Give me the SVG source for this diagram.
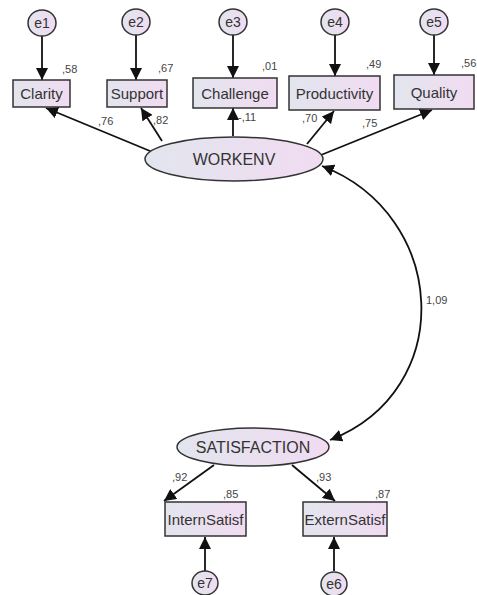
<svg xmlns="http://www.w3.org/2000/svg" width="477" height="595" viewBox="0 0 477 595">
<defs>
<linearGradient id="g" x1="0" y1="0" x2="1" y2="0">
<stop offset="0" stop-color="#e2e5ee"/>
<stop offset="1" stop-color="#f1dbf1"/>
</linearGradient>
<marker id="ahb" viewBox="0 0 10 10" refX="10" refY="5" markerWidth="12" markerHeight="12" markerUnits="userSpaceOnUse" orient="auto-start-reverse">
<path d="M0,0 L10,5 L0,10 z" fill="#111"/>
</marker>
</defs>
<style>
.box{fill:url(#g);stroke:#333;stroke-width:1.5}
.lat{fill:url(#g);stroke:#333;stroke-width:1.5}
.err{fill:url(#g);stroke:#333;stroke-width:1.5}
.t{font-family:"Liberation Sans",Arial,sans-serif;font-size:15px;fill:#333;text-anchor:middle;dominant-baseline:central}
.lt{font-family:"Liberation Sans",Arial,sans-serif;font-size:16px;fill:#333;text-anchor:middle;dominant-baseline:central}
.et{font-family:"Liberation Sans",Arial,sans-serif;font-size:14px;fill:#333;text-anchor:middle;dominant-baseline:central}
.n{font-family:"Liberation Sans",Arial,sans-serif;font-size:11px;fill:#444}
.c{stroke:#111;stroke-width:1.8;fill:none}
</style>
<rect width="477" height="595" fill="#fff"/>
<g id="connectors">
<line class="c" x1="42" y1="36" x2="42" y2="80" marker-end="url(#ahb)"/>
<line class="c" x1="136" y1="35" x2="136" y2="80" marker-end="url(#ahb)"/>
<line class="c" x1="233" y1="35" x2="233" y2="78" marker-end="url(#ahb)"/>
<line class="c" x1="335" y1="35" x2="335" y2="76" marker-end="url(#ahb)"/>
<line class="c" x1="434" y1="35" x2="434" y2="75" marker-end="url(#ahb)"/>
<line class="c" x1="150" y1="151" x2="46" y2="108" marker-end="url(#ahb)"/>
<line class="c" x1="162" y1="141" x2="141" y2="108" marker-end="url(#ahb)"/>
<line class="c" x1="233" y1="136" x2="233" y2="108" marker-end="url(#ahb)"/>
<line class="c" x1="307" y1="144" x2="334" y2="111" marker-end="url(#ahb)"/>
<line class="c" x1="321" y1="155" x2="432" y2="110" marker-end="url(#ahb)"/>
<path class="c" d="M322,166 C448,215 458,390 330,440" marker-start="url(#ahb)" marker-end="url(#ahb)"/>
<line class="c" x1="214" y1="465" x2="164" y2="501" marker-end="url(#ahb)"/>
<line class="c" x1="292" y1="465" x2="335" y2="501" marker-end="url(#ahb)"/>
<line class="c" x1="205" y1="571" x2="205" y2="537" marker-end="url(#ahb)"/>
<line class="c" x1="334" y1="571" x2="334" y2="537" marker-end="url(#ahb)"/>
</g>
<g id="e1"><ellipse class="err" cx="42" cy="23" rx="14" ry="13"/><text class="et" x="42" y="23">e1</text></g>
<g id="e2"><ellipse class="err" cx="136" cy="22" rx="14" ry="13"/><text class="et" x="136" y="22">e2</text></g>
<g id="e3"><ellipse class="err" cx="233" cy="22" rx="14" ry="13"/><text class="et" x="233" y="22">e3</text></g>
<g id="e4"><ellipse class="err" cx="335" cy="22" rx="14" ry="13"/><text class="et" x="335" y="22">e4</text></g>
<g id="e5"><ellipse class="err" cx="434" cy="22" rx="14" ry="13"/><text class="et" x="434" y="22">e5</text></g>
<g id="clarity"><rect class="box" x="13" y="80" width="57" height="27"/><text class="t" x="41.5" y="93.5">Clarity</text><text class="n" x="62" y="73">,58</text></g>
<g id="support"><rect class="box" x="107" y="80" width="60" height="27"/><text class="t" x="137" y="93.5">Support</text><text class="n" x="158" y="72">,67</text></g>
<g id="challenge"><rect class="box" x="193" y="78" width="84" height="30"/><text class="t" x="235" y="93">Challenge</text><text class="n" x="262" y="70">,01</text></g>
<g id="productivity"><rect class="box" x="289" y="76" width="91" height="34"/><text class="t" x="334.5" y="93">Productivity</text><text class="n" x="366" y="68">,49</text></g>
<g id="quality"><rect class="box" x="394" y="75" width="80" height="34"/><text class="t" x="434" y="92">Quality</text><text class="n" x="461" y="67">,56</text></g>
<g id="workenv"><ellipse class="lat" cx="234" cy="159" rx="89" ry="22"/><text class="lt" x="234" y="159">WORKENV</text></g>
<g id="satisfaction"><ellipse class="lat" cx="253" cy="447" rx="76" ry="19"/><text class="lt" x="253" y="447">SATISFACTION</text></g>
<g id="internsatisf"><rect class="box" x="165" y="502" width="81" height="34"/><text class="t" x="205.5" y="519">InternSatisf</text><text class="n" x="223" y="498">,85</text></g>
<g id="externsatisf"><rect class="box" x="303" y="502" width="84" height="34"/><text class="t" x="345" y="519">ExternSatisf</text><text class="n" x="375" y="498">,87</text></g>
<g id="e7"><ellipse class="err" cx="205" cy="583" rx="13" ry="12"/><text class="et" x="205" y="583">e7</text></g>
<g id="e6"><ellipse class="err" cx="334" cy="584" rx="13" ry="12"/><text class="et" x="334" y="584">e6</text></g>
<g id="labels">
<text class="n" x="98" y="125">,76</text>
<text class="n" x="153" y="124">,82</text>
<text class="n" x="238" y="121">-,11</text>
<text class="n" x="302" y="122">,70</text>
<text class="n" x="362" y="127">,75</text>
<text class="n" x="426" y="304">1,09</text>
<text class="n" x="172" y="481">,92</text>
<text class="n" x="316" y="481">,93</text>
</g>
</svg>
